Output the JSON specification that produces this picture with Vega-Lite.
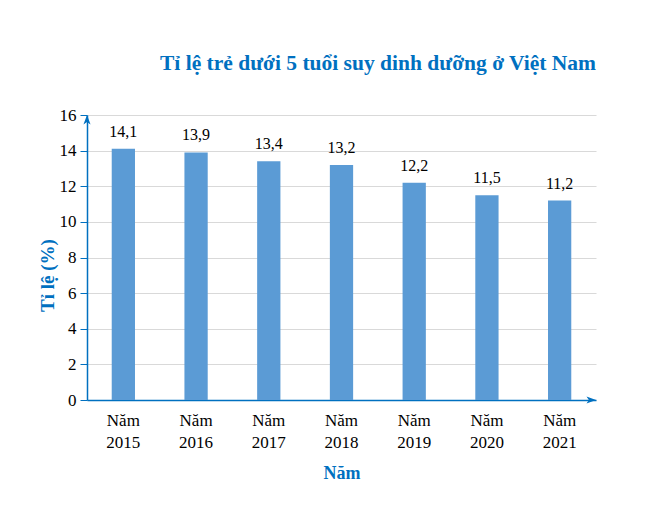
{
  "$schema": "https://vega.github.io/schema/vega-lite/v6.json",
  "width": 509,
  "height": 285,
  "autosize": {"type": "none"},
  "padding": {"left": 87, "top": 115, "right": 55, "bottom": 113},
  "background": "white",
  "config": {
    "locale": {"number": {"decimal": ",", "thousands": ".", "grouping": [3], "currency": ["", ""]}},
    "view": {"stroke": null},
    "font": "Liberation Serif"
  },
  "title": {
    "text": "Tỉ lệ trẻ dưới 5 tuổi suy dinh dưỡng ở Việt Nam",
    "anchor": "end",
    "font": "Liberation Serif",
    "fontSize": 21.5,
    "fontWeight": "bold",
    "color": "#0070C0",
    "offset": 32
  },
  "resolve": {"scale": {"x": "independent"}, "axis": {"y": "independent"}},
  "layer": [
    {
      "data": {
        "values": [
          {"nam": "2015", "tile": 14.1},
          {"nam": "2016", "tile": 13.9},
          {"nam": "2017", "tile": 13.4},
          {"nam": "2018", "tile": 13.2},
          {"nam": "2019", "tile": 12.2},
          {"nam": "2020", "tile": 11.5},
          {"nam": "2021", "tile": 11.2}
        ]
      },
      "encoding": {
        "x": {
          "field": "nam",
          "type": "ordinal",
          "scale": {"paddingInner": 0.68, "paddingOuter": 0.34},
          "axis": {
            "title": "Năm",
            "titleFont": "Liberation Serif",
            "titleFontSize": 18,
            "titleFontWeight": "bold",
            "titleColor": "#0070C0",
            "titlePadding": 14,
            "labelExpr": "['Năm', datum.label]",
            "labelAngle": 0,
            "labelFont": "Liberation Serif",
            "labelFontSize": 17,
            "labelColor": "#000000",
            "labelLineHeight": 22,
            "labelPadding": 12,
            "ticks": false,
            "domainColor": "#0070C0",
            "domainWidth": 1.5,
            "grid": false
          }
        },
        "y": {
          "field": "tile",
          "type": "quantitative",
          "scale": {"domain": [0, 16]},
          "axis": {
            "title": "Tỉ lệ (%)",
            "titleFont": "Liberation Serif",
            "titleFontSize": 19,
            "titleFontWeight": "bold",
            "titleColor": "#0070C0",
            "titleX": -40,
            "titleY": 160,
            "titleAngle": -90,
            "titleBaseline": "middle",
            "values": [0, 2, 4, 6, 8, 10, 12, 14, 16],
            "labelOverlap": false,
            "labelFont": "Liberation Serif",
            "labelFontSize": 17,
            "labelColor": "#000000",
            "labelPadding": 4,
            "tickSize": 7,
            "tickColor": "#0070C0",
            "domainColor": "#0070C0",
            "domainWidth": 1.5,
            "grid": true,
            "gridColor": "#D9D9D9",
            "gridWidth": 1
          }
        }
      },
      "layer": [
        {"mark": {"type": "bar", "color": "#5B9BD5"}},
        {
          "mark": {"type": "text", "baseline": "bottom", "dy": -9, "font": "Liberation Serif", "fontSize": 16, "color": "#000000"},
          "encoding": {"text": {"field": "tile", "type": "quantitative", "format": ".1f"}}
        }
      ]
    },
    {
      "data": {"values": [{"ax": 0, "ay": 16}]},
      "mark": {"type": "point", "shape": "M0,0L-0.75,2L0,1.5L0.75,2Z", "filled": true, "color": "#0070C0", "opacity": 1, "size": 90},
      "encoding": {
        "x": {"field": "ax", "type": "quantitative", "scale": {"domain": [0, 1]}, "axis": null},
        "y": {"field": "ay", "type": "quantitative", "axis": null}
      }
    },
    {
      "data": {"values": [{"ax": 1, "ay": 0}]},
      "mark": {"type": "point", "shape": "M0,0L-2,-0.75L-1.5,0L-2,0.75Z", "filled": true, "color": "#0070C0", "opacity": 1, "size": 90},
      "encoding": {
        "x": {"field": "ax", "type": "quantitative", "scale": {"domain": [0, 1]}, "axis": null},
        "y": {"field": "ay", "type": "quantitative", "axis": null}
      }
    }
  ]
}
